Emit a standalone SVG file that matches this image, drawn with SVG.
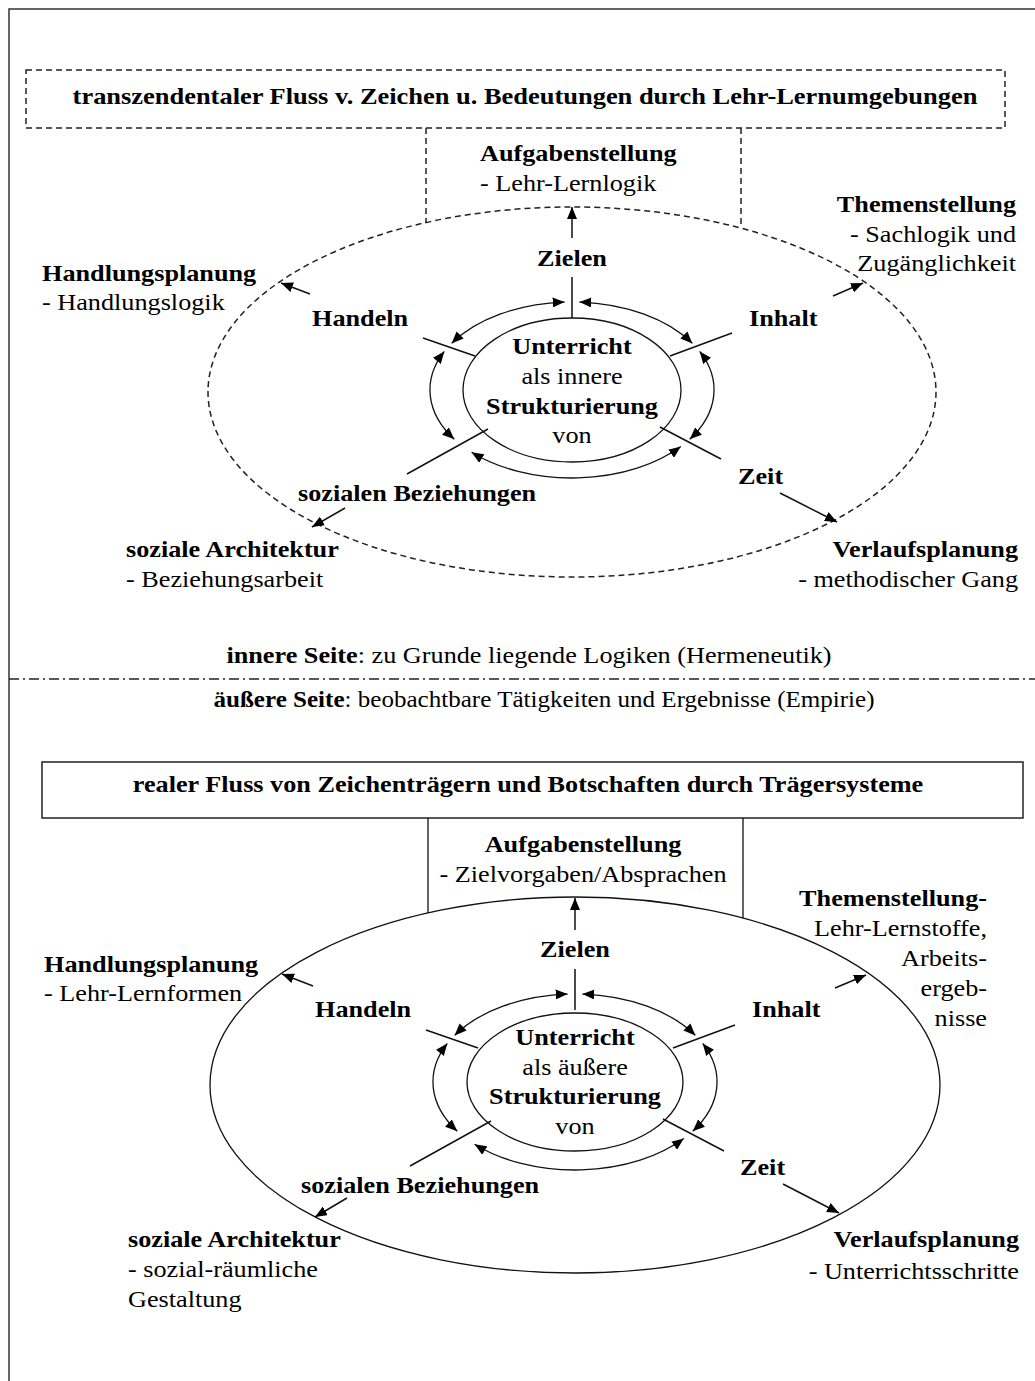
<svg xmlns="http://www.w3.org/2000/svg" width="1035" height="1381" viewBox="0 0 1035 1381">
  <style>
    text { font-family: "Liberation Serif", "Times New Roman", serif; font-size: 23px; fill: #000; }
    .b { font-weight: bold; }
    .m { text-anchor: middle; }
    .e { text-anchor: end; }
    .ln { fill: none; stroke: #111; stroke-width: 1.5; }
    .thin { fill: none; stroke: #111; stroke-width: 1.3; }
    .dash { fill: none; stroke: #222; stroke-width: 1.5; stroke-dasharray: 6 4; }
    .arr { fill: none; stroke: #111; stroke-width: 1.5; marker-end: url(#ah); }
    .dbl { fill: none; stroke: #111; stroke-width: 1.3; marker-start: url(#ah); marker-end: url(#ah); }
  </style>
  <defs>
    <marker id="ah" viewBox="0 0 12 10" refX="12" refY="5" markerWidth="12" markerHeight="10" markerUnits="userSpaceOnUse" orient="auto-start-reverse">
      <path d="M0,0 L12,5 L0,10 z" fill="#000"/>
    </marker>
  </defs>

  <rect width="1035" height="1381" fill="#fff"/>
  <!-- page frame -->
  <path d="M9,1381 V9 H1035" fill="none" stroke="#333" stroke-width="1.5"/>

  <!-- all labels are set slightly wide: translate(x,y) scale(1.14,1) -->

  <!-- ===== inner side ===== -->
  <g id="upper-title">
    <rect x="26" y="70" width="979" height="58" class="dash"/>
    <text transform="translate(525,104) scale(1.15,1)" class="b m">transzendentaler Fluss v. Zeichen u. Bedeutungen durch Lehr-Lernumgebungen</text>
  </g>
  <g id="upper-outer-ellipse">
    <ellipse cx="572" cy="392" rx="364" ry="185" class="dash"/>
  </g>
  <g id="upper-center">
    <ellipse cx="572" cy="390" rx="109" ry="72" class="thin"/>
    <text transform="translate(572,354) scale(1.14,1)" class="b m">Unterricht</text>
    <text transform="translate(572,384) scale(1.14,1)" class="m">als innere</text>
    <text transform="translate(572,414) scale(1.14,1)" class="b m">Strukturierung</text>
    <text transform="translate(572,443) scale(1.14,1)" class="m">von</text>
  </g>
  <g id="upper-zielen"><text transform="translate(572,266) scale(1.14,1)" class="b m">Zielen</text></g>
  <g id="upper-handeln"><text transform="translate(312,326) scale(1.14,1)" class="b">Handeln</text></g>
  <g id="upper-inhalt"><text transform="translate(749,326) scale(1.14,1)" class="b">Inhalt</text></g>
  <g id="upper-zeit"><text transform="translate(738,484) scale(1.14,1)" class="b">Zeit</text></g>
  <g id="upper-sozial"><text transform="translate(298,501) scale(1.14,1)" class="b">sozialen Beziehungen</text></g>
  <g id="upper-aufgabe">
    <text transform="translate(480,161) scale(1.14,1)" class="b">Aufgabenstellung</text>
    <text transform="translate(480,191) scale(1.14,1)">- Lehr-Lernlogik</text>
  </g>
  <g id="upper-thema">
    <text transform="translate(1016,212) scale(1.14,1)" class="b e">Themenstellung</text>
    <text transform="translate(1016,242) scale(1.14,1)" class="e">- Sachlogik und</text>
    <text transform="translate(1016,271) scale(1.14,1)" class="e">Zugänglichkeit</text>
  </g>
  <g id="upper-handlung">
    <text transform="translate(42,281) scale(1.14,1)" class="b">Handlungsplanung</text>
    <text transform="translate(42,310) scale(1.14,1)">- Handlungslogik</text>
  </g>
  <g id="upper-architektur">
    <text transform="translate(126,557) scale(1.14,1)" class="b">soziale Architektur</text>
    <text transform="translate(126,587) scale(1.14,1)">- Beziehungsarbeit</text>
  </g>
  <g id="upper-verlauf">
    <text transform="translate(1018,557) scale(1.14,1)" class="b e">Verlaufsplanung</text>
    <text transform="translate(1018,587) scale(1.14,1)" class="e">- methodischer Gang</text>
  </g>

  <g id="upper-connectors">
    <!-- links from title box down to the outer ring -->
    <path d="M426,128 V223 M741,128 V228" class="dash"/>
    <!-- spokes -->
    <path d="M572,277 V318 M423,338 L475,356 M670,356 L732,333 M407,474 L488,429 M660,427 L721,459" class="ln"/>
    <!-- outward arrows -->
    <path d="M572,238 V207" class="arr"/>
    <path d="M310,294 L281,283" class="arr"/>
    <path d="M833,296 L863,283" class="arr"/>
    <path d="M345,508 L312,527" class="arr"/>
    <path d="M780,493 L837,522" class="arr"/>
    <!-- double arrows round the centre -->
    <path d="M451.6,343.4 A142,88 0 0 1 564.6,302.1" class="dbl"/>
    <path d="M579.4,302.1 A142,88 0 0 1 692.4,343.4" class="dbl"/>
    <path d="M444.3,351.4 A142,88 0 0 0 454.3,439.2" class="dbl"/>
    <path d="M699.7,351.4 A142,88 0 0 1 689.7,439.2" class="dbl"/>
    <path d="M471.6,452.2 A142,88 0 0 0 680.8,446.6" class="dbl"/>
  </g>

  <!-- ===== divider ===== -->
  <g id="divider">
    <text transform="translate(529,663) scale(1.14,1)" class="m"><tspan class="b">innere Seite</tspan>: zu Grunde liegende Logiken (Hermeneutik)</text>
    <line x1="9" y1="679" x2="1035" y2="679" stroke="#222" stroke-width="1.3" stroke-dasharray="10 4 2 4"/>
    <text transform="translate(544,707) scale(1.09,1)" class="m"><tspan class="b">äußere Seite</tspan>: beobachtbare Tätigkeiten und Ergebnisse (Empirie)</text>
  </g>

  <!-- ===== outer side ===== -->
  <g id="lower-title">
    <rect x="42" y="762" width="981" height="56" fill="none" stroke="#222" stroke-width="1.5"/>
    <text transform="translate(528,792) scale(1.14,1)" class="b m">realer Fluss von Zeichenträgern und Botschaften durch Trägersysteme</text>
  </g>
  <g id="lower-outer-ellipse">
    <ellipse cx="575" cy="1085" rx="365" ry="188" class="thin"/>
  </g>
  <g id="lower-center">
    <ellipse cx="575" cy="1082" rx="108" ry="69" class="thin"/>
    <text transform="translate(575,1045) scale(1.14,1)" class="b m">Unterricht</text>
    <text transform="translate(575,1075) scale(1.14,1)" class="m">als äußere</text>
    <text transform="translate(575,1104) scale(1.14,1)" class="b m">Strukturierung</text>
    <text transform="translate(575,1134) scale(1.14,1)" class="m">von</text>
  </g>
  <g id="lower-zielen"><text transform="translate(575,957) scale(1.14,1)" class="b m">Zielen</text></g>
  <g id="lower-handeln"><text transform="translate(315,1017) scale(1.14,1)" class="b">Handeln</text></g>
  <g id="lower-inhalt"><text transform="translate(752,1017) scale(1.14,1)" class="b">Inhalt</text></g>
  <g id="lower-zeit"><text transform="translate(740,1175) scale(1.14,1)" class="b">Zeit</text></g>
  <g id="lower-sozial"><text transform="translate(301,1193) scale(1.14,1)" class="b">sozialen Beziehungen</text></g>
  <g id="lower-aufgabe">
    <text transform="translate(583,852) scale(1.14,1)" class="b m">Aufgabenstellung</text>
    <text transform="translate(583,882) scale(1.14,1)" class="m">- Zielvorgaben/Absprachen</text>
  </g>
  <g id="lower-thema">
    <text transform="translate(987,906) scale(1.14,1)" class="b e">Themenstellung-</text>
    <text transform="translate(987,936) scale(1.14,1)" class="e">Lehr-Lernstoffe,</text>
    <text transform="translate(987,966) scale(1.14,1)" class="e">Arbeits-</text>
    <text transform="translate(987,996) scale(1.14,1)" class="e">ergeb-</text>
    <text transform="translate(987,1026) scale(1.14,1)" class="e">nisse</text>
  </g>
  <g id="lower-handlung">
    <text transform="translate(44,972) scale(1.14,1)" class="b">Handlungsplanung</text>
    <text transform="translate(44,1001) scale(1.14,1)">- Lehr-Lernformen</text>
  </g>
  <g id="lower-architektur">
    <text transform="translate(128,1247) scale(1.14,1)" class="b">soziale Architektur</text>
    <text transform="translate(128,1277) scale(1.14,1)">- sozial-räumliche</text>
    <text transform="translate(128,1307) scale(1.14,1)">Gestaltung</text>
  </g>
  <g id="lower-verlauf">
    <text transform="translate(1019,1247) scale(1.14,1)" class="b e">Verlaufsplanung</text>
    <text transform="translate(1019,1279) scale(1.14,1)" class="e">- Unterrichtsschritte</text>
  </g>

  <g id="lower-connectors" transform="translate(3,692)">
    <!-- links from title box down to the outer ring -->
    <path d="M425,126 V221 M740,126 V226" fill="none" stroke="#111" stroke-width="1.3"/>
    <!-- spokes -->
    <path d="M572,277 V318 M423,338 L475,356 M670,356 L732,333 M407,474 L488,429 M660,427 L721,459" class="ln"/>
    <!-- outward arrows -->
    <path d="M572,238 V206" class="arr"/>
    <path d="M310,294 L279,282" class="arr"/>
    <path d="M832,296 L863,283" class="arr"/>
    <path d="M344,506 L312,525" class="arr"/>
    <path d="M780,492 L836,521" class="arr"/>
    <!-- double arrows round the centre -->
    <path d="M451.6,343.4 A142,88 0 0 1 564.6,302.1" class="dbl"/>
    <path d="M579.4,302.1 A142,88 0 0 1 692.4,343.4" class="dbl"/>
    <path d="M444.3,351.4 A142,88 0 0 0 454.3,439.2" class="dbl"/>
    <path d="M699.7,351.4 A142,88 0 0 1 689.7,439.2" class="dbl"/>
    <path d="M471.6,452.2 A142,88 0 0 0 680.8,446.6" class="dbl"/>
  </g>
</svg>
